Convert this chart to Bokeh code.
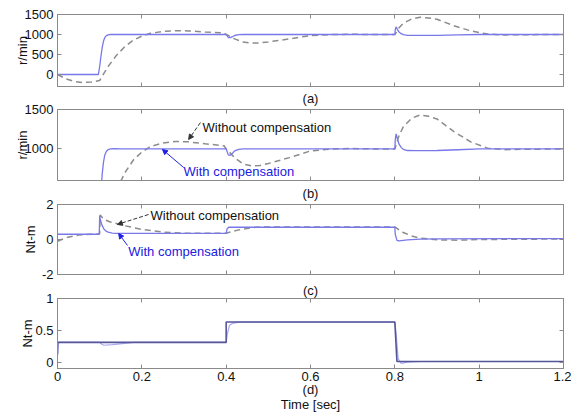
from bokeh.plotting import figure
from bokeh.layouts import column
from bokeh.models import LinearAxis, FixedTicker, Arrow, NormalHead, Range1d, Title, Label
from bokeh.embed import file_html
from bokeh.resources import INLINE

# ---------------- data ----------------
x_ticks = [0, 0.2, 0.4, 0.6, 0.8, 1.0, 1.2]
x_tick_labels = ["0", "0.2", "0.4", "0.6", "0.8", "1", "1.2"]

speed_ticks_a = [0, 500, 1000, 1500]
speed_labels_a = ["0", "500", "1000", "1500"]
speed_ticks_b = [1000, 1500]
speed_labels_b = ["1000", "1500"]
torque_ticks_c = [-2, 0, 2]
torque_labels_c = ["-2", "0", "2"]
torque_ticks_d = [0, 0.5, 1]
torque_labels_d = ["0", "0.5", "1"]

# speed, with compensation (r/min)
t_speed_comp = [0, 0.097, 0.100, 0.103, 0.106, 0.109, 0.112, 0.116, 0.120, 0.126, 0.135, 0.15,
                0.4, 0.402, 0.405, 0.41, 0.415, 0.42, 0.43, 0.44, 0.5,
                0.8, 0.801, 0.803, 0.806, 0.81, 0.815, 0.82, 0.83, 0.85, 0.9, 0.95, 1.0, 1.2]
speed_comp = [0, 0, 200, 450, 680, 830, 920, 970, 990, 1000, 1005, 1000,
              1000, 970, 925, 920, 945, 975, 995, 1000, 1000,
              1000, 1120, 1190, 1130, 1060, 1020, 995, 980, 978, 980, 990, 1000, 1000]

# speed, without compensation (r/min)
t_speed_nocomp = [0, 0.02, 0.04, 0.06, 0.08, 0.1, 0.12, 0.14, 0.16, 0.18, 0.2, 0.22, 0.25, 0.28,
                  0.31, 0.35, 0.395, 0.4, 0.405, 0.42, 0.44, 0.46, 0.48, 0.5, 0.55, 0.6, 0.65,
                  0.7, 0.75, 0.8, 0.81, 0.82, 0.84, 0.86, 0.88, 0.9, 0.94, 0.98, 1.02, 1.06, 1.1, 1.2]
speed_nocomp = [0, -110, -175, -200, -190, -150, 200, 480, 700, 860, 960, 1030, 1075, 1095,
                1090, 1065, 1040, 1000, 975, 890, 810, 785, 790, 815, 890, 975, 1000,
                1005, 1000, 1000, 1170, 1280, 1390, 1430, 1415, 1380, 1220, 1090, 1010, 990, 995, 1000]

# torque, with compensation (Nt-m)
t_torque_comp = [0, 0.099, 0.1, 0.102, 0.105, 0.11, 0.115, 0.12, 0.13, 0.14,
                 0.4, 0.402, 0.406, 0.8, 0.801, 0.805, 0.81, 0.83, 0.86, 0.9, 1.2]
torque_comp = [0.3, 0.3, 1.35, 1.1, 0.85, 0.6, 0.48, 0.42, 0.37, 0.35,
               0.35, 0.6, 0.7, 0.7, 0.3, -0.05, -0.08, -0.02, 0.02, 0.04, 0.05]

# torque, without compensation (Nt-m)
t_torque_nocomp = [0, 0.02, 0.05, 0.08, 0.1, 0.101, 0.11, 0.125, 0.142, 0.16, 0.2, 0.25, 0.3,
                   0.4, 0.43, 0.47, 0.5, 0.55, 0.8, 0.81, 0.82, 0.84, 0.86, 0.9, 0.95, 1.0, 1.2]
torque_nocomp = [-0.1, 0.1, 0.25, 0.3, 0.33, 1.4, 1.15, 1.0, 0.9, 0.78, 0.58, 0.42, 0.36,
                 0.36, 0.55, 0.7, 0.72, 0.72, 0.72, 0.55, 0.4, 0.2, 0.08, -0.02, -0.04, 0.0, 0.03]

# load torque (Nt-m): command and estimate
t_load_cmd = [0, 0, 0.4, 0.4, 0.8, 0.805, 1.2]
load_cmd = [0.12, 0.31, 0.31, 0.63, 0.63, 0.01, 0.01]
t_load_est = [0, 0.003, 0.1, 0.105, 0.11, 0.13, 0.16, 0.18, 0.4, 0.403, 0.408, 0.415, 0.43,
              0.8, 0.803, 0.808, 0.815, 0.83, 0.86, 1.2]
load_est = [0.12, 0.31, 0.31, 0.28, 0.265, 0.275, 0.295, 0.31, 0.31, 0.45, 0.58, 0.61, 0.63,
            0.63, 0.45, 0.05, -0.02, 0.0, 0.01, 0.01]

# ---------------- style ----------------
FONT = "Liberation Sans"
BLUE = "#7878ea"
GRAY = "#8c8c8c"
FRAME = "#8a8a8a"
TXT = "#111111"
FS = "13px"


def style_axis(ax):
    ax.axis_line_color = FRAME
    ax.major_tick_line_color = FRAME
    ax.major_tick_in = 4
    ax.major_tick_out = 0
    ax.minor_tick_line_color = None
    ax.major_label_text_font = FONT
    ax.major_label_text_font_size = FS
    ax.major_label_text_color = TXT
    ax.major_label_standoff = 4
    ax.axis_label_text_font = FONT
    ax.axis_label_text_font_size = FS
    ax.axis_label_text_font_style = "normal"
    ax.axis_label_text_color = TXT


def hide_labels(ax):
    ax.major_label_text_font_size = "0px"
    ax.major_label_text_color = None
    ax.major_label_standoff = 0


def panel(height, top, bottom, yr, yticks, ylabels, ylabel, label_standoff,
          xlabel=None, xlabel_standoff=0, show_x=False,
          caption=None, caption_standoff=0):
    p = figure(width=571, height=height, x_range=Range1d(0, 1.2), y_range=Range1d(*yr),
               output_backend="svg", toolbar_location=None,
               min_border_left=57, min_border_right=8,
               min_border_top=top, min_border_bottom=bottom,
               x_axis_type=None, y_axis_type=None)
    p.grid.visible = False
    p.outline_line_color = FRAME
    xt = FixedTicker(ticks=x_ticks, minor_ticks=[])
    yt = FixedTicker(ticks=yticks, minor_ticks=[])

    xb = LinearAxis(ticker=xt)
    style_axis(xb)
    if show_x:
        xb.major_label_overrides = {float(k): v for k, v in zip(x_ticks, x_tick_labels)}
        xb.major_label_standoff = 3
    else:
        hide_labels(xb)
    if xlabel is not None:
        xb.axis_label = xlabel
        xb.axis_label_standoff = xlabel_standoff
        xb.axis_label_text_line_height = 1.0
    p.add_layout(xb, "below")

    xa = LinearAxis(ticker=xt)
    style_axis(xa)
    hide_labels(xa)
    p.add_layout(xa, "above")

    yl = LinearAxis(ticker=yt, axis_label=ylabel)
    style_axis(yl)
    yl.axis_label_standoff = label_standoff
    yl.major_label_overrides = {float(k): v for k, v in zip(yticks, ylabels)}
    p.add_layout(yl, "left")

    yr_ax = LinearAxis(ticker=yt)
    style_axis(yr_ax)
    hide_labels(yr_ax)
    p.add_layout(yr_ax, "right")

    if caption is not None:
        p.add_layout(Title(text=caption, align="center", vertical_align="middle",
                           text_font=FONT, text_font_size=FS, text_font_style="normal",
                           text_color=TXT, text_line_height=1.0,
                           standoff=caption_standoff), "above")
    return p


def note(p, x, y, text, color=TXT):
    p.add_layout(Label(x=x, y=y, text=text, text_font=FONT, text_font_size=FS,
                       text_color=color, text_align="left", text_baseline="middle"))


def pointer(p, xs, ys, xe, ye, color, dash="solid"):
    p.add_layout(Arrow(end=NormalHead(size=5, fill_color=color, line_color=color),
                       x_start=xs, y_start=ys, x_end=xe, y_end=ye,
                       line_color=color, line_width=1, line_dash=dash))


# (a)
pa = panel(87, 14, 1, (-300, 1500), speed_ticks_a, speed_labels_a, "r/min", -8)
pa.line(t_speed_nocomp, speed_nocomp, line_color=GRAY, line_width=1.5, line_dash="6 4")
pa.line(t_speed_comp, speed_comp, line_color=BLUE, line_width=1.3)

# (b)  -- caption "(a)" sits above this frame
pb = panel(94, 22, 1, (600, 1500), speed_ticks_b, speed_labels_b, "r/min", -8,
           caption="(a)", caption_standoff=5)
pb.line(t_speed_nocomp, speed_nocomp, line_color=GRAY, line_width=1.5, line_dash="6 4")
pb.line(t_speed_comp, speed_comp, line_color=BLUE, line_width=1.3)
note(pb, 0.344, 1272, "Without compensation")
pointer(pb, 0.339, 1335, 0.311, 1120, "#333333", "4 2")
note(pb, 0.299, 714, "With compensation", color="#2020e0")
pointer(pb, 0.299, 765, 0.249, 993, "#2020e0")

# (c)  -- caption "(b)" sits above this frame
pc = panel(100, 23, 7, (-2, 2), torque_ticks_c, torque_labels_c, "Nt-m", 1,
           caption="(b)", caption_standoff=6)
pc.line(t_torque_nocomp, torque_nocomp, line_color=GRAY, line_width=1.5, line_dash="6 4")
pc.line(t_torque_comp, torque_comp, line_color=BLUE, line_width=1.3)
note(pc, 0.2205, 1.37, "Without compensation")
pointer(pc, 0.216, 1.43, 0.142, 0.86, "#333333", "4 2")
note(pc, 0.168, -0.686, "With compensation", color="#2020e0")
pointer(pc, 0.166, -0.34, 0.145, 0.34, "#2020e0")

# (d)  -- caption "(c)" sits above this frame
pd = panel(135, 16, 48, (-0.1, 1.0), torque_ticks_d, torque_labels_d, "Nt-m", -3,
           xlabel="(d)\nTime [sec]", xlabel_standoff=-2, show_x=True,
           caption="(c)", caption_standoff=0)
pd.line(t_load_est, load_est, line_color="#aaaaee", line_width=1.2)
pd.line(t_load_cmd, load_cmd, line_color="#55559a", line_width=1.6)

layout = column(pa, pb, pc, pd, spacing=0)
open("out.html", "w").write(file_html(layout, INLINE))
